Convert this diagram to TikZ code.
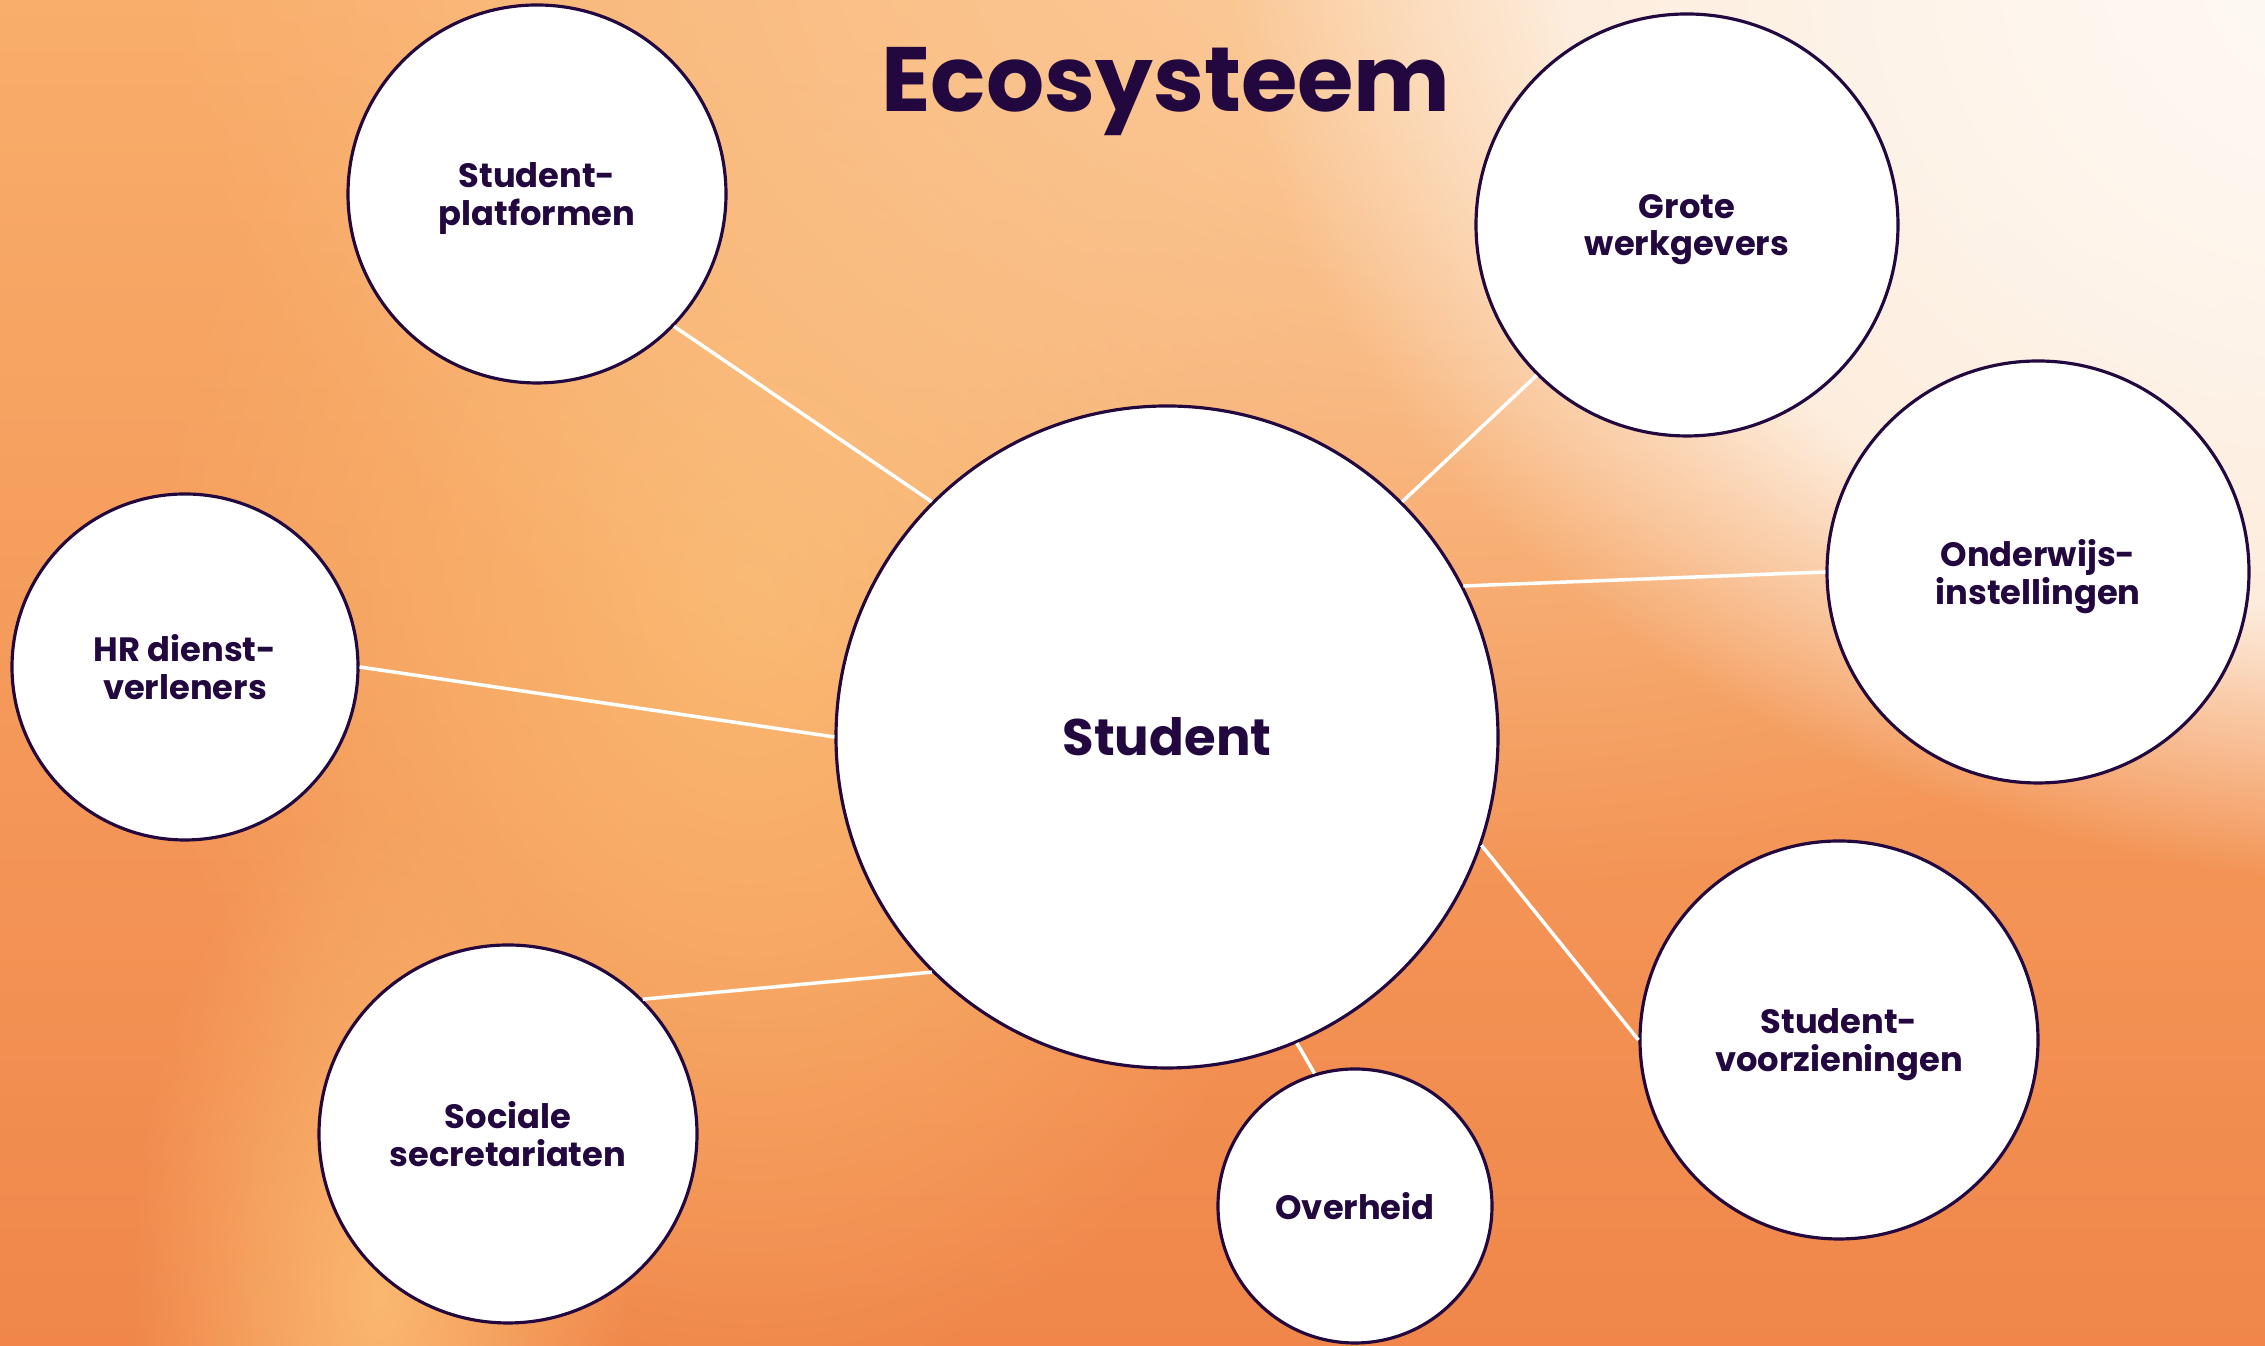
\documentclass[tikz,border=0pt]{standalone}
\usepackage{fontspec}
\setmainfont{Poppins}
\usetikzlibrary{positioning,fadings,calc}
\definecolor{inkpurple}{HTML}{22083F}
\definecolor{bgtop}{HTML}{F9AE6B}
\definecolor{bgmid}{HTML}{F59D5F}
\definecolor{bgbottom}{HTML}{F0864A}
\definecolor{glowcream}{HTML}{FEF0E2}
\definecolor{glowwhite}{HTML}{FFFAF5}
\definecolor{glowpeach}{HTML}{FBCD9E}
\definecolor{bandorange}{HTML}{FAB870}
% fadings for the background glow
\pgfdeclareradialshading{softshade}{\pgfpointorigin}{color(0bp)=(white); color(12bp)=(white!55!black); color(25bp)=(black); color(50bp)=(black)}
\pgfdeclarefading{softfade}{\pgfuseshading{softshade}}
\pgfdeclareradialshading{edgeshade}{\pgfpointorigin}{color(0bp)=(white); color(18bp)=(white!92!black); color(25bp)=(black); color(50bp)=(black)}
\pgfdeclarefading{edgefade}{\pgfuseshading{edgeshade}}
\tikzset{
  bubble/.style={circle, draw=inkpurple, line width=0.9pt, fill=white, text=inkpurple,
    font=\bfseries\fontsize{9.6}{10.6}\selectfont, align=center, inner sep=0pt, text depth=0pt},
  hub/.style={bubble, font=\bfseries\fontsize{14.6}{17}\selectfont},
  link/.style={draw=white, line width=1pt},
}

\begin{document}
\begin{tikzpicture}
  \useasboundingbox (0,0) rectangle (22.65,13.46);
  % background
  \begin{scope}
    \clip (0,0) rectangle (22.65,13.46);
    \shade[top color=bgtop, middle color=bgmid, bottom color=bgbottom] (0,0) rectangle (22.65,13.46);
    \fill[bandorange, path fading=softfade] (7.5,7.5) ellipse (6 and 8);
    \fill[bandorange, path fading=softfade] (3.8,0.5) ellipse (2.5 and 5);
    \fill[glowpeach, path fading=softfade] (14.5,14.5) ellipse (13 and 10);
    \fill[glowcream, path fading=edgefade] (24.5,14.2) ellipse (12.2 and 9.6);
    \fill[glowwhite, path fading=softfade] (23.5,13.8) ellipse (8.5 and 7.5);
  \end{scope}

  \node[text=inkpurple, font=\bfseries\fontsize{26}{30}\selectfont, anchor=base] (title) at (11.66,12.34) {Ecosysteem};

  % the student in the middle
  \node[hub, minimum size=6.62cm] (stud) at (11.67,6.09) {Student};

  % partners
  \node[bubble, minimum size=3.78cm] (plat) at (5.37,11.52) {Student-\\platformen};
  \node[bubble, minimum size=4.22cm] (grote) at (16.87,11.21) {Grote\\werkgevers};
  \node[bubble, minimum size=4.22cm] (onder) at (20.38,7.74) {Onderwijs-\\instellingen};
  \node[bubble, minimum size=3.46cm] (hr) at (1.85,6.79) {HR dienst-\\verleners};
  \node[bubble, minimum size=3.78cm] (soc) at (5.08,2.12) {Sociale\\secretariaten};
  \node[bubble, minimum size=2.74cm] (over) at (13.55,1.40) {Overheid};
  \node[bubble, minimum size=3.98cm] (voorz) at (18.39,3.06) {Student-\\voorzieningen};

  % spokes
  \foreach \a/\b/\c in {plat/-44/135, grote/-135/45, onder/180/27, hr/0/180,
                        soc/45/-135, over/107/-67, voorz/180/-19}
    \draw[link] (\a.\b) -- (stud.\c);
\end{tikzpicture}
\end{document}
